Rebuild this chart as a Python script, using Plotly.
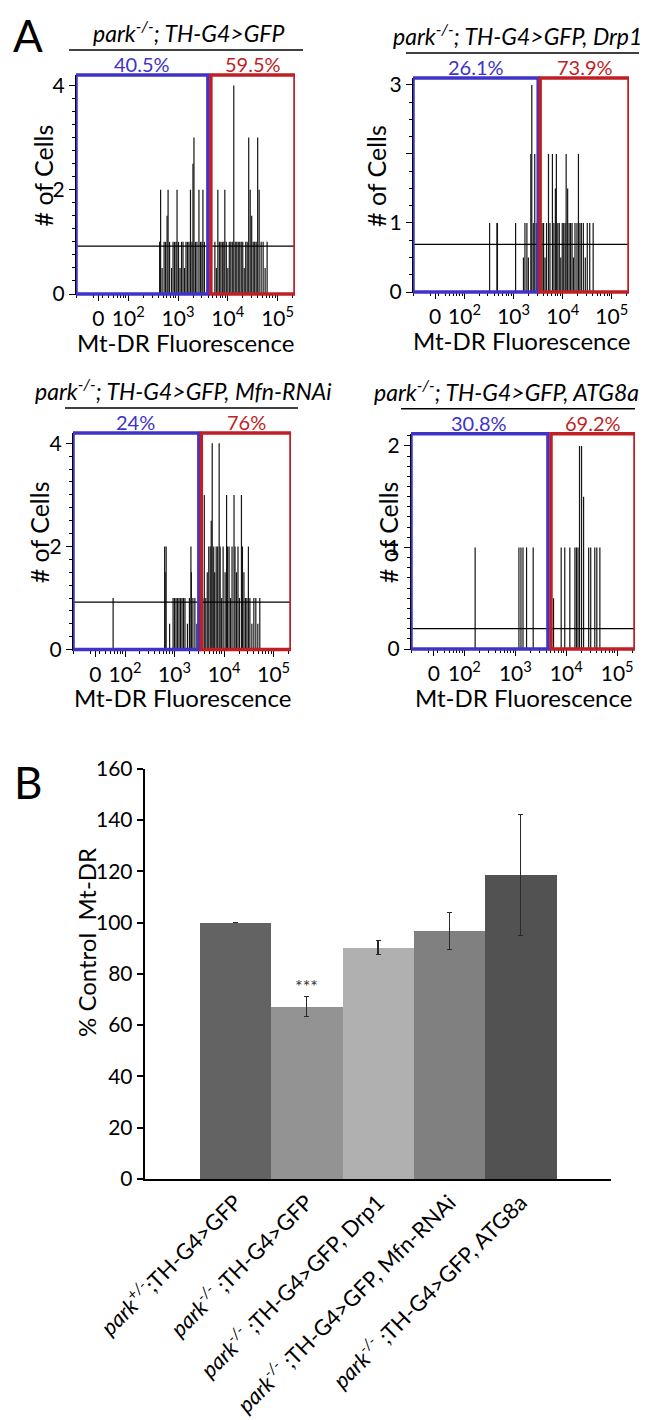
import plotly.graph_objects as go
import math

# ---------------- Panel A data (fluorescence in log10 units) ----------------
hist_titles = [
    "<i>park<sup>-/-</sup>; TH-G4&gt;GFP</i>",
    "<i>park<sup>-/-</sup>; TH-G4&gt;GFP, Drp1</i>",
    "<i>park<sup>-/-</sup>; TH-G4&gt;GFP, Mfn-RNAi</i>",
    "<i>park<sup>-/-</sup>; TH-G4&gt;GFP, ATG8a</i>",
]
pct_low = ["40.5%", "26.1%", "24%", "30.8%"]
pct_high = ["59.5%", "73.9%", "76%", "69.2%"]
gate_low_end = [3.60, 3.50, 3.49, 3.64]
gate_high_start = [3.66, 3.54, 3.54, 3.70]
baseline = [0.92, 0.69, 0.92, 0.20]
y_max = [4.2, 3.1, 4.2, 2.12]
y_tickvals = [[0, 2, 4], [0, 1, 2, 3], [0, 2, 4], [0, 1, 2]]
y_ticktext = [["0", "2", "4"], ["0", "1", "", "3"], ["0", "2", "4"], ["0", "1", "2"]]
y_minor = [0.25, 0.25, 0.25, 0.1]
x_range = [0.95, 5.35]
x_tickvals = [1.40, 2, 3, 4, 5]
x_ticktext = ["0", "10<sup>2</sup>", "10<sup>3</sup>", "10<sup>4</sup>", "10<sup>5</sup>"]
x_label = "Mt-DR Fluorescence"
y_label = "# of Cells"

p1_pos = [2.63, 2.65, 2.68, 2.72, 2.75, 2.78, 2.80, 2.83, 2.87, 2.90,
          2.93, 2.96, 2.98, 3.01, 3.04, 3.07, 3.10, 3.13, 3.16, 3.19,
          3.22, 3.25, 3.28, 3.30, 3.32, 3.35, 3.38, 3.42, 3.45, 3.48,
          3.50, 3.53,
          3.74, 3.77, 3.80, 3.83, 3.86, 3.89, 3.92, 3.94, 3.97, 4.00,
          4.03, 4.06, 4.09, 4.12, 4.15, 4.18, 4.21, 4.24, 4.27, 4.30,
          4.33, 4.36, 4.39, 4.42, 4.45, 4.48, 4.51, 4.54, 4.57, 4.60,
          4.63, 4.67, 4.71, 4.75, 4.79]
p1_cnt = [1, 2, 0.5, 1, 1, 1.5, 2, 1, 0.5, 1,
          1, 1, 2, 1, 0.5, 1, 1, 0.5, 1, 1,
          1, 2, 1, 2.5, 3, 1, 1, 2, 1, 1,
          2, 1,
          1, 0.5, 2, 1, 1, 1, 1, 2, 1, 0.5,
          1, 1, 1, 4, 1, 1, 1, 1, 1, 1,
          0.5, 1, 1, 3, 2, 1.5, 1, 1, 1, 3,
          2, 1, 1, 0.5, 1]

p2_pos = [2.51, 2.66, 2.67, 3.04, 3.20, 3.23, 3.27, 3.30, 3.35, 3.37, 3.40, 3.43, 3.46,
          3.58, 3.61, 3.64, 3.67, 3.71, 3.74, 3.79, 3.82, 3.85, 3.87,
          3.90, 3.93, 3.96, 3.99, 4.02, 4.05, 4.07, 4.10, 4.13, 4.16,
          4.19, 4.22, 4.25, 4.29, 4.32, 4.35, 4.38, 4.42, 4.46, 4.50,
          4.55, 4.62]
p2_cnt = [1, 1, 1, 1, 0.5, 1, 1, 0.5, 2, 3, 1, 2, 1,
          1, 1, 0.5, 1, 2, 1, 2, 1, 1.5, 2,
          1, 1, 0.5, 1, 1, 1, 2, 1.5, 1, 1,
          1, 0.5, 1, 1, 2, 1, 1, 1, 0.5, 1,
          1, 1]

p3_pos = [1.76,
          2.80, 2.81, 2.83, 2.90, 2.97, 3.00, 3.03, 3.06, 3.09, 3.12,
          3.15, 3.18, 3.21, 3.26, 3.30, 3.33, 3.34, 3.37, 3.41, 3.45,
          3.57, 3.60, 3.63, 3.66, 3.69, 3.72, 3.74, 3.76, 3.79, 3.81,
          3.84, 3.87, 3.90, 3.92, 3.95, 3.98, 4.02, 4.05, 4.07, 4.10,
          4.13, 4.16, 4.20, 4.22, 4.25, 4.28, 4.31, 4.35, 4.37, 4.40,
          4.43, 4.46, 4.49, 4.52, 4.56, 4.60, 4.64, 4.68, 4.72]
p3_cnt = [1,
          2, 1.5, 2, 0.5, 1, 1, 1, 1, 1, 1,
          1, 1, 1, 0.5, 1, 2, 1.5, 1, 1, 0.5,
          1, 3, 1, 1.5, 2, 2, 2.5, 4, 2, 1.5,
          2, 2, 4, 2, 1, 2, 1.5, 3, 2, 2,
          1, 2, 3, 2, 1.5, 2, 1, 3, 2, 1.5,
          1, 1, 2, 1, 0.5, 1, 1, 0.5, 1]

p4_pos = [2.21, 3.07, 3.11, 3.15, 3.22, 3.35,
          3.75, 3.90, 3.97, 4.07, 4.17, 4.20, 4.23, 4.26, 4.30, 4.34,
          4.44, 4.48, 4.56, 4.60, 4.66]
p4_cnt = [1, 1, 1, 1, 1, 1,
          0.5, 1, 1, 1, 1, 1, 1, 2, 2, 1.5,
          1, 1, 1, 1, 1]

spike_pos = [p1_pos, p2_pos, p3_pos, p4_pos]
spike_cnt = [p1_cnt, p2_cnt, p3_cnt, p4_cnt]

# ---------------- Panel B data ----------------
bar_labels = [
    "<i>park<sup>+/-</sup></i>;TH-G4&gt;GFP",
    "<i>park<sup>-/-</sup></i> ;TH-G4&gt;GFP",
    "<i>park<sup>-/-</sup></i> ;TH-G4&gt;GFP, Drp1",
    "<i>park<sup>-/-</sup></i> ;TH-G4&gt;GFP, Mfn-RNAi",
    "<i>park<sup>-/-</sup></i> ;TH-G4&gt;GFP, ATG8a",
]
bar_values = [100, 67.3, 90.3, 96.8, 118.5]
bar_errors = [None, 3.9, 2.7, 7.2, 23.5]
bar_colors = ["#636363", "#939393", "#b0b0b0", "#808080", "#525252"]
bar_ylabel = "% Control  Mt-DR"
signif = ["", "***", "", "", ""]

# ---------------- layout helpers ----------------
W, H = 650, 1420
FONT = "Lato"
BLUE = "#4033c8"
RED = "#c01f25"


def px(x):
    return x / W


def py(y):
    return 1 - y / H


def note(x, y, text, size, color="black", xref="paper", angle=0):
    return dict(x=x, y=y, xref=xref, yref="paper", text=text, showarrow=False,
                xanchor="center", yanchor="middle", textangle=angle,
                font=dict(family=FONT, size=size, color=color))


panels = [
    dict(xd=(68, 287), yd=(67, 286), ylab_x=34, title_x=181, line=(61, 295)),
    dict(xd=(405, 621), yd=(70, 284), ylab_x=368, title_x=509, line=(398, 631)),
    dict(xd=(65, 283), yd=(425, 641.6), ylab_x=31, title_x=175, line=(57, 290)),
    dict(xd=(403, 627), yd=(425.7, 641), ylab_x=380, title_x=498, line=(393, 627)),
]

minor_x = []
for n in range(0, 6):
    for k in range(2, 10):
        v = n + math.log10(k)
        if x_range[0] < v < x_range[1]:
            minor_x.append(v)

fig = go.Figure()
annotations = []
shapes = []
layout_axes = {}

for i, p in enumerate(panels):
    sfx = "" if i == 0 else str(i + 1)
    xa, ya = "x" + sfx, "y" + sfx
    # spikes
    sx, sy = [], []
    for xv, cv in zip(spike_pos[i], spike_cnt[i]):
        sx += [xv, xv, None]
        sy += [0, cv, None]
    fig.add_trace(go.Scatter(x=sx, y=sy, mode="lines", xaxis=xa, yaxis=ya,
                             line=dict(color="#151515", width=1.2),
                             hoverinfo="skip", showlegend=False))
    # horizontal level line
    fig.add_trace(go.Scatter(x=x_range, y=[baseline[i], baseline[i]], mode="lines",
                             xaxis=xa, yaxis=ya, line=dict(color="black", width=1.3),
                             hoverinfo="skip", showlegend=False))
    layout_axes["xaxis" + sfx] = dict(
        domain=[px(p["xd"][0]), px(p["xd"][1])], anchor=ya, range=x_range,
        automargin=False,
        tickmode="array", tickvals=x_tickvals, ticktext=x_ticktext,
        ticks="outside", ticklen=6, tickwidth=1, tickcolor="black",
        showline=True, linecolor="black", linewidth=1,
        showgrid=False, zeroline=False,
        tickfont=dict(family=FONT, size=21, color="black"),
        minor=dict(tickmode="array", tickvals=minor_x, ticks="outside",
                   ticklen=3, tickwidth=1, tickcolor="black", showgrid=False),
    )
    layout_axes["yaxis" + sfx] = dict(
        domain=[py(p["yd"][1]), py(p["yd"][0])], anchor=xa, range=[0, y_max[i]],
        automargin=False,
        tickmode="array", tickvals=y_tickvals[i], ticktext=y_ticktext[i],
        ticks="outside", ticklen=6, tickwidth=1, tickcolor="black",
        showline=True, linecolor="black", linewidth=1,
        showgrid=False, zeroline=False,
        tickfont=dict(family=FONT, size=21, color="black"),
        minor=dict(dtick=y_minor[i], ticks="outside", ticklen=3, tickwidth=1,
                   tickcolor="black", showgrid=False),
    )
    # gates
    shapes.append(dict(type="rect", xref=xa, yref=ya + " domain",
                       x0=x_range[0], x1=gate_low_end[i], y0=0, y1=1,
                       line=dict(color=BLUE, width=3.5), layer="above"))
    shapes.append(dict(type="rect", xref=xa, yref=ya + " domain",
                       x0=gate_high_start[i], x1=x_range[1], y0=0, y1=1,
                       line=dict(color=RED, width=3.5), layer="above"))
    top = p["yd"][0]
    bottom = p["yd"][1]
    xc = (p["xd"][0] + p["xd"][1]) / 2
    # percentages
    annotations.append(note((x_range[0] + gate_low_end[i]) / 2, py(top - 11),
                            pct_low[i], 20, BLUE, xref=xa))
    annotations.append(note((gate_high_start[i] + x_range[1]) / 2, py(top - 11),
                            pct_high[i], 20, RED, xref=xa))
    # title + underline
    annotations.append(note(px(p["title_x"]), py(top - 43), hist_titles[i], 23))
    shapes.append(dict(type="line", xref="paper", yref="paper",
                       x0=px(p["line"][0]), x1=px(p["line"][1]),
                       y0=py(top - 25), y1=py(top - 25),
                       line=dict(color="black", width=1.5)))
    # axis titles
    annotations.append(note(px(p["ylab_x"]), py((top + bottom) / 2 - 9),
                            y_label, 25, angle=-90))
    annotations.append(note(px(xc), py(bottom + 48), x_label, 24))

# ---------------- bar chart ----------------
fig.add_trace(go.Bar(
    x=bar_labels, y=bar_values, xaxis="x5", yaxis="y5",
    marker=dict(color=bar_colors, line=dict(width=0)),
    width=1.0,
    error_y=dict(type="data", array=bar_errors, color="#2a2a2a",
                 thickness=1.2, width=2.5, visible=True),
    hoverinfo="skip", showlegend=False,
))
layout_axes["xaxis5"] = dict(
    domain=[px(136.7), px(603.3)], anchor="y5", range=[-1.27, 5.27],
    automargin=False,
    type="category", tickangle=-45, ticks="", showline=True, linecolor="black",
    linewidth=2, showgrid=False, zeroline=False,
    tickfont=dict(family=FONT, size=22, color="black"),
)
layout_axes["yaxis5"] = dict(
    domain=[py(1171), py(760.7)], anchor="x5", range=[0, 160],
    automargin=False,
    dtick=20, ticks="outside", ticklen=6, tickwidth=1.5, tickcolor="black",
    showline=True, linecolor="black", linewidth=2, showgrid=False, zeroline=False,
    tickfont=dict(family=FONT, size=21, color="black"),
)
for lab, val, err, s in zip(bar_labels, bar_values, bar_errors, signif):
    if s:
        annotations.append(dict(x=lab, xref="x5", y=val + (err or 0), yref="y5",
                                xanchor="center", yanchor="bottom", yshift=-3,
                                text=s, showarrow=False,
                                font=dict(family=FONT, size=18, color="#333333")))
annotations.append(note(px(78), py(935), bar_ylabel, 24, angle=-90))

# panel letters
annotations.append(note(px(20), py(27), "A", 44))
annotations.append(note(px(20), py(774), "B", 44))

fig.update_layout(
    width=W, height=H, margin=dict(l=0, r=0, t=0, b=0, autoexpand=False),
    paper_bgcolor="white", plot_bgcolor="white",
    bargap=0, showlegend=False,
    annotations=annotations, shapes=shapes,
    font=dict(family=FONT, color="black"),
    **layout_axes,
)
fig.write_html("out.html")
